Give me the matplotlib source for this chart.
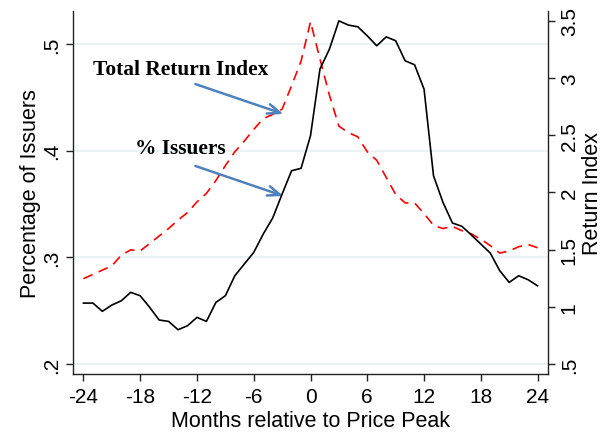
import numpy as np
import matplotlib
matplotlib.use("Agg")
import matplotlib.pyplot as plt
from matplotlib.ticker import FuncFormatter

# months relative to the price peak
months = list(range(-24, 25))

# share of issuers (left axis), red dashed
pct_issuers = [0.280, 0.284, 0.288, 0.292, 0.302, 0.307, 0.306, 0.313, 0.320, 0.327,
               0.335, 0.342, 0.352, 0.360, 0.372, 0.386, 0.399, 0.409, 0.420, 0.430,
               0.434, 0.439, 0.461, 0.484, 0.521,
               0.486, 0.452, 0.423, 0.417, 0.413, 0.399, 0.391, 0.375, 0.359, 0.351,
               0.351, 0.341, 0.330, 0.327, 0.329, 0.325, 0.322, 0.317, 0.311, 0.304,
               0.306, 0.310, 0.312, 0.309]

# total return index (right axis), black solid
return_index = [1.033, 1.033, 0.961, 1.016, 1.053, 1.127, 1.097, 0.996, 0.885, 0.873,
                0.800, 0.835, 0.908, 0.873, 1.039, 1.097, 1.272, 1.374, 1.476, 1.636,
                1.776, 1.986, 2.190, 2.211, 2.496,
                3.079, 3.253, 3.500, 3.463, 3.448, 3.369, 3.282, 3.360, 3.326, 3.151,
                3.116, 2.903, 2.146, 1.913, 1.733, 1.704, 1.628, 1.549, 1.470, 1.316,
                1.214, 1.272, 1.237, 1.184]

x_ticks = [-24, -18, -12, -6, 0, 6, 12, 18, 24]
left_ticks = [0.2, 0.3, 0.4, 0.5]
right_ticks = [0.5, 1, 1.5, 2, 2.5, 3, 3.5]

plt.rcParams['font.family'] = ['Liberation Sans', 'DejaVu Sans']
plt.rcParams['axes.unicode_minus'] = False

def stata_fmt(v, pos):
    # Stata style: .5 instead of 0.5
    s = ('%g' % v)
    if s.startswith('0.'):
        s = s[1:]
    return s

fig = plt.figure(figsize=(6.07, 4.35), dpi=100)
ax = fig.add_axes([0.1203, 0.1379, 0.7825, 0.8345])
ax2 = ax.twinx()

grid_col = '#eaf2f3'
for t in left_ticks:
    ax.axhline(t, color=grid_col, lw=1.5, zorder=0)

ax.plot(months, pct_issuers, color='red', lw=1.2, dashes=(6, 4), zorder=3)
ax2.plot(months, return_index, color='black', lw=1.2, zorder=3)

ax.set_xlim(-25.1, 25.1)
ax.set_ylim(0.1906, 0.531)
ax2.set_ylim(0.413, 3.586)

ax.set_xticks(x_ticks)
ax.set_yticks(left_ticks)
ax2.set_yticks(right_ticks)
ax.yaxis.set_major_formatter(FuncFormatter(stata_fmt))
ax2.yaxis.set_major_formatter(FuncFormatter(stata_fmt))

for a in (ax, ax2):
    a.spines['top'].set_visible(False)
    for s in a.spines.values():
        s.set_color('#222222')
        s.set_linewidth(1.0)
    a.tick_params(direction='out', length=5, width=1, colors='#222222',
                  labelsize=15, labelcolor='black')
ax.tick_params(axis='x', pad=4)
ax.spines['right'].set_visible(False)
ax2.spines['left'].set_visible(False)
ax2.spines['bottom'].set_visible(False)

for lab in ax.get_yticklabels():
    lab.set_rotation(90)
    lab.set_va('center')
for lab in ax2.get_yticklabels():
    lab.set_rotation(90)
    lab.set_va('center')

ax.set_xlabel('Months relative to Price Peak', fontsize=15.5, labelpad=3)
ax.set_ylabel('Percentage of Issuers', fontsize=15.5)
ax2.set_ylabel('Return Index', fontsize=15.5)
ax.yaxis.set_label_coords(-0.068, 0.5)
ax2.yaxis.set_label_coords(1.072, 0.5)

arrow_col = '#4f81bd'
ann_font = dict(family='Liberation Serif', fontweight='bold', fontsize=15.4)
head = '->,head_length=0.9,head_width=0.35'
ax.annotate('', xy=(-2.86, 0.4344), xytext=(-12.17, 0.4625),
            arrowprops=dict(arrowstyle=head, color=arrow_col, lw=1.8,
                            shrinkA=0, shrinkB=0))
ax.annotate('', xy=(-2.86, 0.3575), xytext=(-12.17, 0.3857),
            arrowprops=dict(arrowstyle=head, color=arrow_col, lw=1.8,
                            shrinkA=0, shrinkB=0))
ax.text(-13.76, 0.4766, 'Total Return Index', ha='center', va='center', **ann_font)
ax.text(-13.76, 0.4025, '% Issuers', ha='center', va='center', **ann_font)

fig.savefig('out.png', dpi=100)
